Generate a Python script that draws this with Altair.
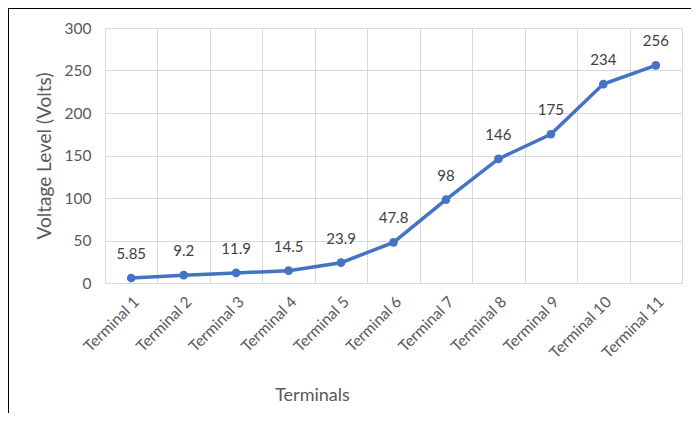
import altair as alt
import pandas as pd

terminals = ["Terminal 1", "Terminal 2", "Terminal 3", "Terminal 4", "Terminal 5", "Terminal 6",
             "Terminal 7", "Terminal 8", "Terminal 9", "Terminal 10", "Terminal 11"]
voltages = [5.85, 9.2, 11.9, 14.5, 23.9, 47.8, 98, 146, 175, 234, 256]
value_labels = ["5.85", "9.2", "11.9", "14.5", "23.9", "47.8", "98", "146", "175", "234", "256"]

df = pd.DataFrame({"Terminal": terminals, "Voltage": voltages, "Label": value_labels})

FONT = "Lato"
GREY = "#595959"
BLUE = "#4472C4"

x_enc = alt.X(
    "Terminal:N",
    sort=terminals,
    scale=alt.Scale(type="band", paddingInner=0, paddingOuter=0),
    axis=alt.Axis(
        title="Terminals",
        tickBand="extent",
        grid=True,
        gridColor="#d9d9d9",
        gridWidth=1,
        ticks=False,
        domainColor="#d9d9d9",
        labelAngle=-45,
        labelAlign="right",
        labelBaseline="top",
        labelFont=FONT,
        labelFontSize=15.5,
        labelColor=GREY,
        labelPadding=11,
        titleFont=FONT,
        titleFontSize=18,
        titleFontWeight="normal",
        titleColor=GREY,
        titleX=207,
        titleY=112,
        titleAlign="center",
        titleBaseline="middle",
    ),
)

y_enc = alt.Y(
    "Voltage:Q",
    scale=alt.Scale(domain=[0, 300], nice=False),
    axis=alt.Axis(
        title="Voltage Level (Volts)",
        values=[0, 50, 100, 150, 200, 250, 300],
        grid=True,
        gridColor="#d9d9d9",
        gridWidth=1,
        ticks=False,
        domain=False,
        labelFont=FONT,
        labelFontSize=15.5,
        labelColor=GREY,
        labelPadding=14,
        titleFont=FONT,
        titleFontSize=19,
        titleFontWeight="normal",
        titleColor=GREY,
        titlePadding=10,
    ),
)

base = alt.Chart(df).encode(x=x_enc, y=y_enc)

line = base.mark_line(color=BLUE, strokeWidth=3.5)
points = base.mark_point(filled=True, color=BLUE, size=75, opacity=1)
labels = base.mark_text(font=FONT, fontSize=15, color="#404040", dy=-24, baseline="middle").encode(
    text="Label:N"
)

frame_left = alt.Chart(df).mark_rule(color="#000000", strokeWidth=1.5).encode(
    x=alt.value(-97), y=alt.value(-20), y2=alt.value(400)
)
frame_top = alt.Chart(df).mark_rule(color="#000000", strokeWidth=1.5).encode(
    x=alt.value(-97), x2=alt.value(600), y=alt.value(-20)
)

chart = (
    alt.layer(line, points, labels, frame_left, frame_top)
    .properties(
        width=577,
        height=255,
        padding={"left": 97, "top": 20, "right": 9, "bottom": 130},
        autosize=alt.AutoSizeParams(type="none"),
    )
    .configure_view(stroke="#d9d9d9", strokeWidth=1)
    .configure(background="white")
)

chart.save("out.html", embed_options={"renderer": "svg", "actions": False})
